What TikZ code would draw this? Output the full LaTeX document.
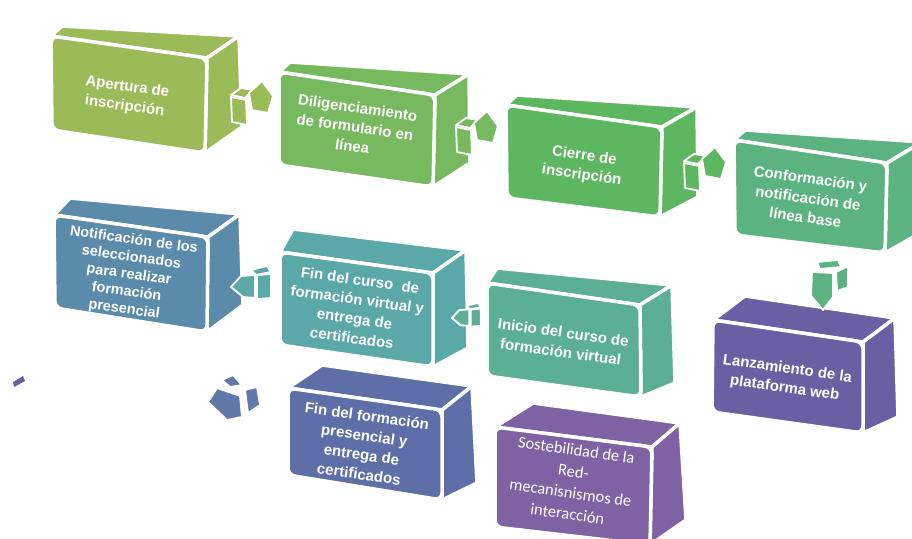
\documentclass[tikz,border=0pt]{standalone}
\usepackage{fontspec}
\setmainfont{Liberation Sans}
\newfontfamily\carl{Carlito}
\usetikzlibrary{calc}
\definecolor{cA}{HTML}{9BBB59}
\definecolor{cB}{HTML}{77B95E}
\definecolor{cC}{HTML}{5DB760}
\definecolor{cD}{HTML}{5BB381}
\definecolor{cE}{HTML}{6B5FA3}
\definecolor{cF}{HTML}{5B8BAA}
\definecolor{cG}{HTML}{5BA8A9}
\definecolor{cH}{HTML}{5BAF94}
\definecolor{cI}{HTML}{5E6FA8}
\definecolor{cJ}{HTML}{7E62A4}
\definecolor{cK}{HTML}{6078AA}
\tikzset{
  face/.style={fill=#1, draw=white, line width=3.5pt, line join=round},
  frontface/.style={fill=#1, draw=white, line width=3.5pt, rounded corners=7pt},
  arrface/.style={fill=#1, draw=white, line width=1.8pt, line join=round},
  boxtext/.style={text=white, font=\bfseries\fontsize{15}{19.5}\selectfont, align=center, rotate=-8, inner sep=0pt},
  tighttext/.style={text=white, font=\bfseries\fontsize{14.5}{17.5}\selectfont, align=center, rotate=-8, inner sep=0pt},
  softtext/.style={text=white, font=\carl\fontsize{16.5}{21.5}\selectfont, align=center, rotate=-8, inner sep=0pt},
  pics/rarr/.style={code={
    \path[arrface=#1] (0,-3) -- (10,-10) -- (22,-8) -- (14,0) -- cycle;
    \path[arrface=#1] (0,-1) -- (15,2) -- (16,27) -- (1,24) -- cycle;
    \path[arrface=#1] (18,-5) -- (31,-17) -- (42,-2) -- (37,15) -- (21,12) -- cycle;
  }},
  pics/larr/.style={code={
    \path[arrface=#1] (20,-17) -- (36,-21) -- (40,-15) -- (25,-12) -- cycle;
    \path[arrface=#1] (0,0) -- (10,-11) -- (24,-12) -- (24,11) -- (12,10) -- cycle;
    \path[arrface=#1] (26,-12) -- (40,-13) -- (40,11) -- (26,12) -- cycle;
  }},
  pics/darr/.style={code={
    \path[arrface=#1] (4,-10) -- (25,-12) -- (28,-5) -- (7,-3) -- cycle;
    \path[arrface=#1] (23,0) -- (35,-6) -- (35,15) -- (24,19) -- cycle;
    \path[arrface=#1] (-1,0) -- (20,1) -- (20,25) -- (10,38) -- (-2,24) -- cycle;
  }},
}
% color, F1, F2, F3, F4, B1, B2, B3, name
\newcommand\mycube[9]{%
  \path[face=#1] (#2) -- (#3) -- (#7) -- (#6) -- cycle;
  \path[face=#1] (#3) -- (#7) -- (#8) -- (#4) -- cycle;
  \path[frontface=#1] (#2) -- (#3) -- (#4) -- (#5) -- cycle;
  \coordinate (#9) at ($(#2)!0.5!(#4)$);
}
\begin{document}
\begin{tikzpicture}[x=1pt,y=-1pt]
\useasboundingbox (0,0) rectangle (912,538);
\clip (0,0) rectangle (912,538);
% lower row first (they lie behind)
\mycube{cJ}{495,427}{652,447}{650,545}{495,527}{533,403}{680,423}{686,520}{bJ}
\mycube{cI}{288,388}{442,410}{442,500}{288,475}{322,365}{472,386}{477,483}{bI}
% top row
\mycube{cA}{51,36}{207,58}{205,153}{52,130}{62,26}{239,36}{242,127}{bA}
\mycube{cB}{279,72}{435,95}{433,187}{279,165}{290,62}{469,74}{470,163}{bB}
\mycube{cC}{506,105}{662,127}{660,217}{507,198}{517,95}{697,107}{698,197}{bC}
\mycube{cD}{734,140}{887,163}{885,253}{735,235}{745,130}{922,142}{922,232}{bD}
% middle row
\mycube{cE}{713,320}{863,342}{863,433}{712,412}{745,296}{895,318}{898,417}{bE}
\mycube{cF}{54,215}{208,237}{207,332}{55,308}{70,198}{240,214}{243,305}{bF}
\mycube{cH}{487,283}{640,305}{641,397}{487,376}{497,268}{672,285}{675,383}{bH}
\mycube{cG}{280,252}{433,273}{433,367}{280,345}{293,229}{466,250}{468,348}{bG}
% arrows
\coordinate (aAB) at (231,98);
\coordinate (aBC) at (456,128);
\coordinate (aCD) at (684,164);
\coordinate (aDE) at (813,272);
\coordinate (aHG) at (452,318);
\coordinate (aGF) at (231,287);
\pic at (aAB) {rarr=cA};
\pic at (aBC) {rarr=cB};
\pic at (aCD) {rarr=cC};
\pic at (aDE) {darr=cD};
\pic[scale=0.72] at (aHG) {larr=cH};
\pic at (aGF) {larr=cG};
% loose arrow pieces at the lower left
\path[arrface=cK] (222,380) -- (233,375) -- (242,385) -- (230,387) -- cycle;
\path[arrface=cK] (208,402) -- (217,388) -- (240,396) -- (242,417) -- (227,420) -- cycle;
\path[arrface=cK] (245,390) -- (257,387) -- (260,405) -- (248,413) -- cycle;
\path[fill=cE] (13,382) -- (23,376) -- (25,381) -- (14,387) -- cycle;
% texts
\node[boxtext] (tA) at (126,97) {Apertura de\\inscripción};
\node[boxtext] (tB) at (355,127) {Diligenciamiento\\de formulario en\\línea};
\node[boxtext] (tC) at (583,166) {Cierre de\\inscripción};
\node[boxtext] (tD) at (808,198) {Conformación y\\notificación de\\línea base};
\node[boxtext] (tE) at (786,379) {Lanzamiento de la\\plataforma web};
\node[tighttext] (tF) at (129,275) {Notificación de los\\seleccionados\\para realizar\\formación\\presencial};
\node[boxtext] (tG) at (356,309) {Fin del curso~ de\\formación virtual y\\entrega de\\certificados};
\node[boxtext] (tH) at (562,342) {Inicio del curso de\\formación virtual};
\node[boxtext] (tI) at (363,445) {Fin del formación\\presencial y\\entrega de\\certificados};
\node[softtext] (tJ) at (572,482) {Sostebilidad de la\\Red-\\mecanisnismos de\\interacción};
\end{tikzpicture}
\end{document}
